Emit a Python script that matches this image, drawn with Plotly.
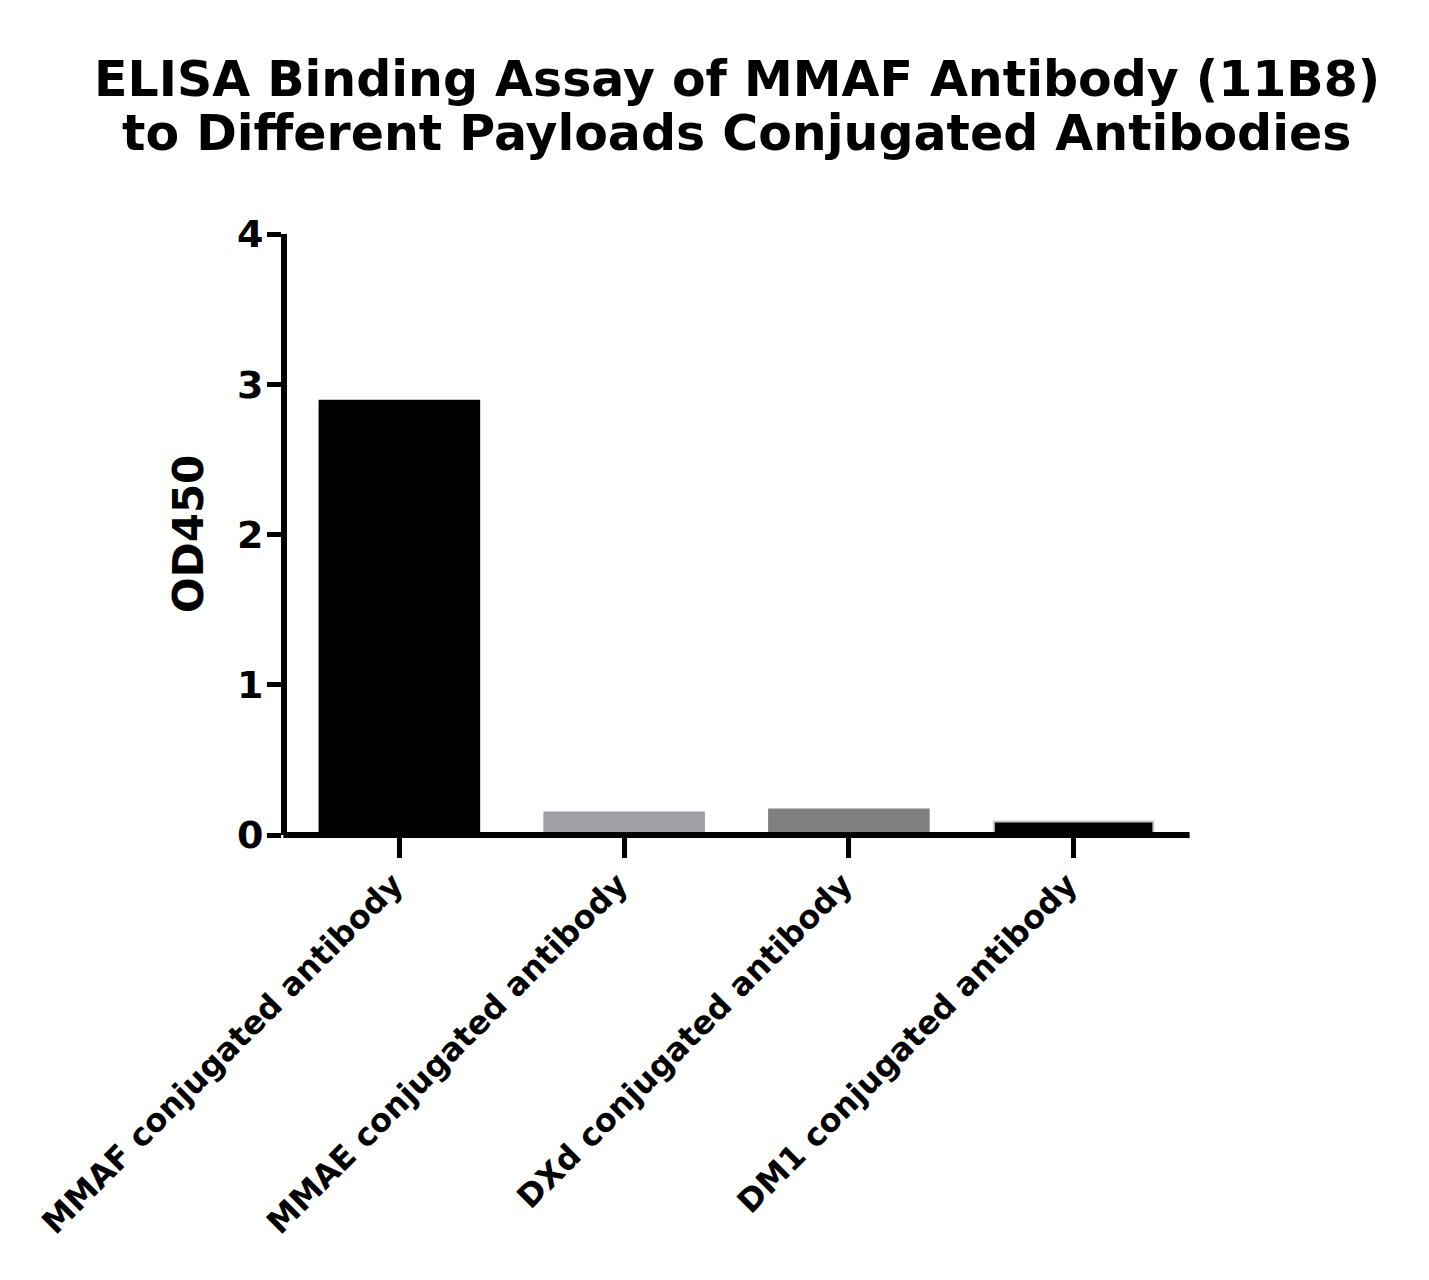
import plotly.graph_objects as go

# ELISA OD450 readings per payload conjugate
categories = ['MMAF conjugated antibody', 'MMAE conjugated antibody',
              'DXd conjugated antibody', 'DM1 conjugated antibody']
od450 = [2.89, 0.15, 0.17, 0.09]
bar_colors = ['#000000', '#A0A0A4', '#808080', '#000000']
edge_colors = ['#000000', '#A0A0A4', '#808080', '#C8C8C8']
y_ticks = [0, 1, 2, 3, 4]
title_lines = ['ELISA Binding Assay of MMAF Antibody (11B8)',
               'to Different Payloads Conjugated Antibodies']

font_family = 'DejaVu Sans, sans-serif'

fig = go.Figure()
fig.add_trace(go.Bar(
    x=categories, y=od450,
    marker=dict(color=bar_colors, line=dict(color=edge_colors, width=2)),
    width=0.71, showlegend=False,
))

# x axis line centred on y=0, over the bar bottoms (Prism style)
fig.add_shape(type='line', xref='paper', yref='paper', x0=-0.004, x1=1.004, y0=0, y1=0,
              line=dict(color='black', width=6), layer='above')

# two title lines as annotations, so line spacing can be set
for i, line in enumerate(title_lines):
    fig.add_annotation(text='<b>' + line + '</b>', xref='paper', yref='paper',
                       x=0.5, y=[1.2573, 1.1674][i], xanchor='center', yanchor='middle',
                       showarrow=False, font=dict(size=49, family=font_family, color='black'))

fig.add_annotation(text='<b>OD450</b>', xref='paper', yref='paper', x=-0.109, y=0.501,
                   xanchor='center', yanchor='middle', textangle=-90, showarrow=False,
                   font=dict(size=42, family=font_family, color='black'))

fig.update_layout(
    width=1421, height=1272,
    margin=dict(l=279, r=243, t=226, b=445),
    plot_bgcolor='white', paper_bgcolor='white',
    font=dict(family=font_family, color='black'),
    xaxis=dict(
        showline=False, showgrid=False, zeroline=False,
        ticks='outside', ticklen=22, tickwidth=5, tickcolor='black',
        tickangle=-45, ticklabelstandoff=-5, ticklabelshift=-6,
        tickfont=dict(size=32, family=font_family, color='black', weight='bold'),
        range=[-0.5, 3.5],
    ),
    yaxis=dict(
        range=[0, 4], tickvals=y_ticks,
        showline=True, linewidth=6, linecolor='black',
        showgrid=False, zeroline=False,
        ticks='outside', ticklen=14, tickwidth=5, tickcolor='black',
        ticklabelstandoff=-4,
        tickfont=dict(size=38, family=font_family, color='black', weight='bold'),
    ),
)

fig.write_html('out.html')
